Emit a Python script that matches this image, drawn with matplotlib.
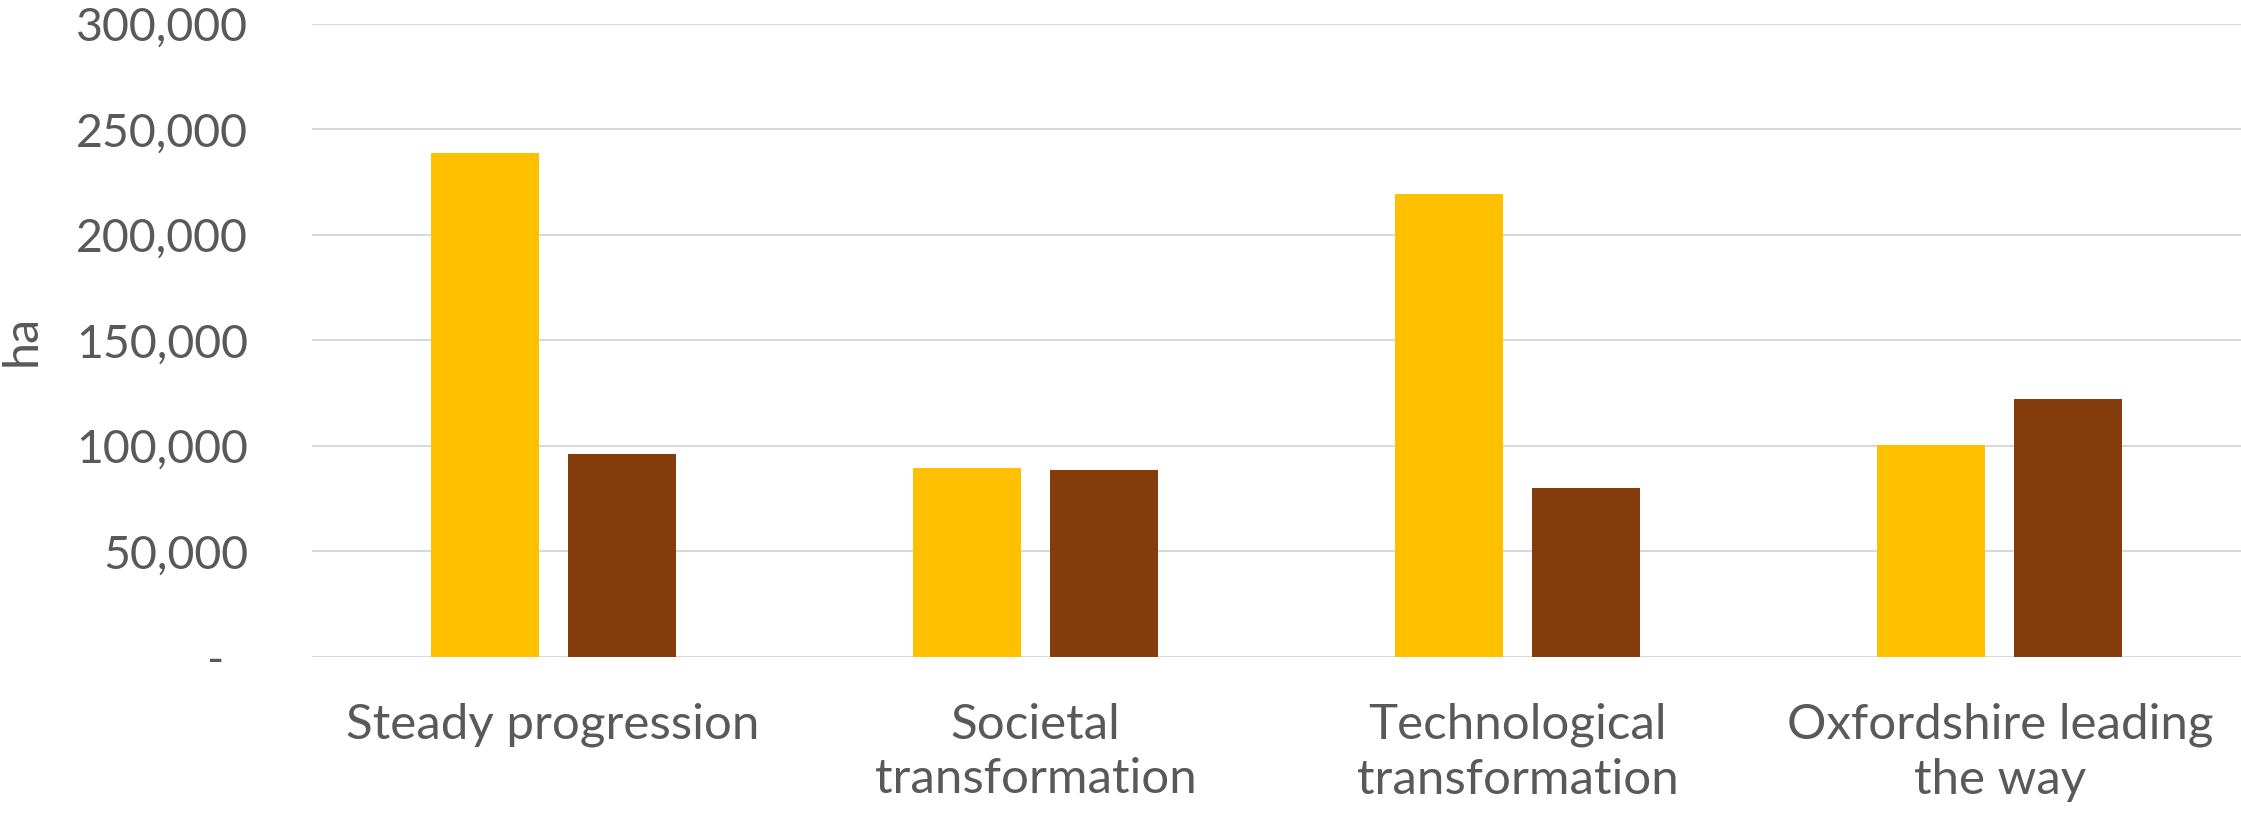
import numpy as np
import matplotlib
matplotlib.use('Agg')
import matplotlib.pyplot as plt
from matplotlib.ticker import FuncFormatter

scenarios = ['Steady progression', 'Societal\ntransformation',
             'Technological\ntransformation', 'Oxfordshire leading\nthe way']
series_a = [239000, 89500, 219500, 100500]
series_b = [96000, 88500, 80000, 122000]
yticks = [0, 50000, 100000, 150000, 200000, 250000, 300000]

plt.rcParams['font.family'] = ['Lato', 'DejaVu Sans']
grey = '#595959'

fig = plt.figure(figsize=(22.41, 8.15), dpi=100)
ax = fig.add_axes([312/2241, 1-656.7/815, 1-312/2241, (656.7-24)/815])

x = np.arange(len(scenarios))
w = 0.224
off = 0.142
ax.bar(x-off, series_a, width=w, color='#FFC000', zorder=3)
ax.bar(x+off, series_b, width=w, color='#843C0C', zorder=3)

ax.set_xlim(-0.5, len(scenarios)-0.5)
ax.set_ylim(0, 300000)
ax.set_yticks(yticks)
ax.yaxis.set_major_formatter(FuncFormatter(lambda v, p: '-  ' if v == 0 else f'{v:,.0f}'))
ax.grid(axis='y', color='#d9d9d9', lw=1.5, zorder=0)
ax.set_axisbelow(True)
for s in ax.spines.values():
    s.set_visible(False)

ax.set_xticks(x)
ax.set_xticklabels(scenarios, fontsize=35.5, color=grey, linespacing=1.3)
ax.tick_params(axis='x', length=0, pad=33)
ax.tick_params(axis='y', length=0, pad=46, labelsize=33.5, labelcolor=grey)

ax.set_ylabel('ha', fontsize=35, color=grey)
ax.yaxis.set_label_coords(-(312-44)/1929, 0.5)

fig.savefig('out.png', dpi=100)
